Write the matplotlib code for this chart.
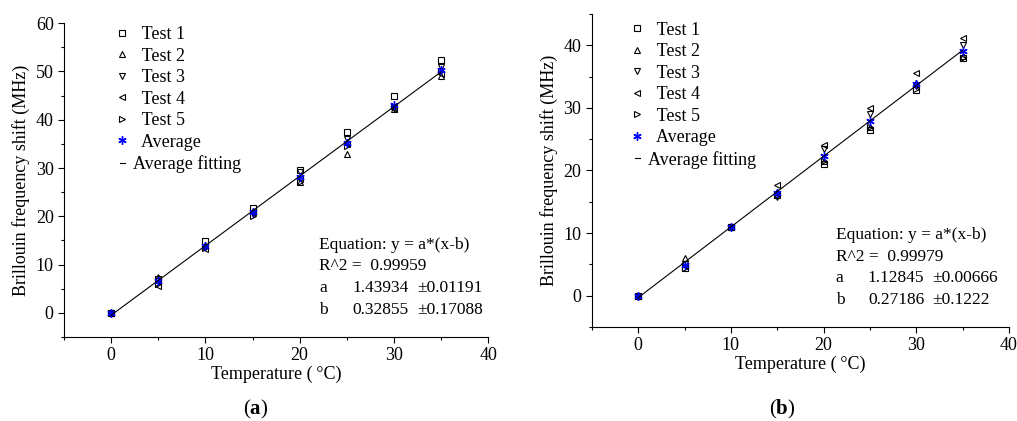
import matplotlib
matplotlib.use("Agg")
import matplotlib.pyplot as plt
import numpy as np
from matplotlib.ticker import MultipleLocator
from matplotlib.legend_handler import HandlerLine2D

plt.rcParams['font.family'] = ['Liberation Serif', 'DejaVu Serif']
plt.rcParams['mathtext.fontset'] = 'custom'
plt.rcParams['mathtext.rm'] = 'Liberation Serif'
plt.rcParams['mathtext.bf'] = 'Liberation Serif:bold'

temps = [0, 5, 10, 15, 20, 25, 30, 35]

# Panel (a)
a_test1 = [0, 7.0, 14.9, 21.8, 29.5, 37.5, 45.0, 52.3]
a_test2 = [0, 7.5, 14.0, 21.0, 27.0, 32.8, 42.3, 49.0]
a_test3 = [0, 6.5, 13.7, 20.5, 29.2, 36.0, 42.5, 51.0]
a_test4 = [0, 5.5, 13.2, 20.8, 28.0, 35.0, 42.3, 49.5]
a_test5 = [0, 6.0, 13.5, 20.0, 27.0, 34.5, 42.8, 50.0]
a_fit = (1.43934, 0.32855)
a_eq = ["Equation: y = a*(x-b)", "R^2 =  0.99959", ("a", "1.43934", "±0.01191"), ("b", "0.32855", "±0.17088")]

# Panel (b)
b_test1 = [0, 4.5, 11.0, 16.0, 21.0, 26.5, 32.8, 38.0]
b_test2 = [0, 6.0, 11.0, 16.5, 21.5, 27.0, 34.0, 38.3]
b_test3 = [0, 5.0, 11.0, 15.8, 23.5, 29.0, 33.5, 40.0]
b_test4 = [0, 4.8, 11.0, 17.6, 24.0, 30.0, 35.6, 41.2]
b_test5 = [0, 4.5, 11.0, 16.0, 21.5, 27.0, 33.0, 38.0]
b_fit = (1.12845, 0.27186)
b_eq = ["Equation: y = a*(x-b)", "R^2 =  0.99979", ("a", "1.12845", "±0.00666"), ("b", "0.27186", "±0.1222")]

labels = ["Test 1", "Test 2", "Test 3", "Test 4", "Test 5"]
markers = ['s', '^', 'v', '<', '>']
FS = 13
EFS = 12.5


class ShortDash(HandlerLine2D):
    def create_artists(self, legend, orig_handle, xdescent, ydescent, width, height, fontsize, trans):
        arts = super().create_artists(legend, orig_handle, xdescent, ydescent, width, height, fontsize, trans)
        for a in arts:
            xd = np.asarray(a.get_xdata(), dtype=float)
            if len(xd) >= 2:
                c = xd.mean()
                a.set_xdata(np.linspace(c - width * 0.25, c + width * 0.25, len(xd)))
        return arts


fig = plt.figure(figsize=(10.17, 4.21), dpi=100)
ax1 = fig.add_axes([0.063, 0.1995, 0.417, 0.7455])
ax2 = fig.add_axes([0.582, 0.2233, 0.41, 0.7437])


def draw(ax, tests, fit, eq, ylim, eqpos, legpos):
    for t, lab, m in zip(tests, labels, markers):
        ax.plot(temps, t, linestyle='none', marker=m, markersize=4.5, mfc='none',
                mec='black', mew=0.8, label="  " + lab)
    avg = np.mean(np.array(tests), axis=0)
    ax.plot(temps, avg, linestyle='none', marker=(6, 2, 0), markersize=6,
            color='blue', mew=1.0, label="  Average")
    xs = np.array([0, 35])
    fl, = ax.plot(xs, fit[0] * (xs - fit[1]), color='black', lw=0.8, label="Average fitting")
    ax.set_xlim(-5, 40)
    ax.set_ylim(*ylim)
    ax.xaxis.set_major_locator(MultipleLocator(10))
    ax.xaxis.set_minor_locator(MultipleLocator(5))
    ax.yaxis.set_major_locator(MultipleLocator(10))
    ax.yaxis.set_minor_locator(MultipleLocator(5))
    for s in ['top', 'right']:
        ax.spines[s].set_visible(False)
    ax.tick_params(which='both', direction='out', labelsize=FS, width=0.8)
    ax.tick_params(which='major', length=4)
    ax.tick_params(which='minor', length=2.5)
    ax.set_xlabel("Temperature (\u2009°C)", fontsize=FS, labelpad=1)
    ax.set_ylabel("Brillouin frequency shift (MHz)", fontsize=FS, labelpad=4)
    ax.legend(loc='upper left', bbox_to_anchor=legpos, frameon=False,
              fontsize=FS, handlelength=0.6, handletextpad=0.3,
              labelspacing=0.25, borderaxespad=0.2,
              handler_map={fl: ShortDash()})
    x0, y0 = eqpos
    dy = 0.069
    ax.text(x0, y0, eq[0], transform=ax.transAxes, fontsize=EFS, va='top')
    ax.text(x0, y0 - dy, eq[1], transform=ax.transAxes, fontsize=EFS, va='top')
    for i, row in enumerate(eq[2:]):
        yy = y0 - dy * (2 + i)
        ax.text(x0, yy, row[0], transform=ax.transAxes, fontsize=EFS, va='top')
        ax.text(x0 + 0.077, yy, row[1], transform=ax.transAxes, fontsize=EFS, va='top')
        ax.text(x0 + 0.231, yy, row[2], transform=ax.transAxes, fontsize=EFS, va='top')


draw(ax1, [a_test1, a_test2, a_test3, a_test4, a_test5], a_fit, a_eq, (-5, 60),
     (0.602, 0.32), (0.099, 1.025))
draw(ax2, [b_test1, b_test2, b_test3, b_test4, b_test5], b_fit, b_eq, (-5, 45),
     (0.585, 0.319), (0.07, 1.01))

fig.text(0.251, 0.015, r"($\mathbf{a}$)", fontsize=15, ha='center')
fig.text(0.769, 0.015, r"($\mathbf{b}$)", fontsize=15, ha='center')

fig.savefig("out.png", dpi=100)
